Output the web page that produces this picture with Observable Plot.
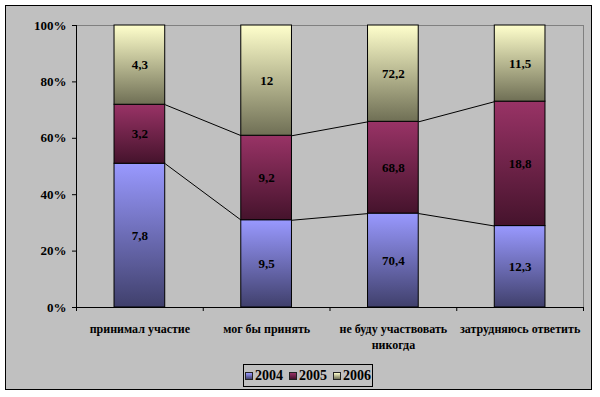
<!DOCTYPE html>
<html>
<head>
<meta charset="utf-8">
<script src="https://cdn.jsdelivr.net/npm/d3@7"></script>
<script src="https://cdn.jsdelivr.net/npm/@observablehq/plot@0.6"></script>
<style>
html,body{margin:0;padding:0;background:#fff;}
#wrap{position:relative;width:600px;height:397px;overflow:hidden;font-family:'Liberation Serif','Times New Roman',serif;}
#frame{position:absolute;left:5px;top:5px;width:585px;height:383px;border:1px solid #000;background:#c0c0c0;}
#chart{position:absolute;left:0;top:0;}
#legend{position:absolute;left:243px;top:364px;width:128px;height:21px;border:1px solid #000;display:flex;align-items:center;justify-content:center;gap:6px;font-weight:bold;font-size:14px;color:#000;font-family:'Liberation Serif',serif;}
#legend .item{display:flex;align-items:center;gap:2px;}
#legend .sw{width:6px;height:6px;border:1px solid #222;}
</style>
</head>
<body>
<div id="wrap">
  <div id="frame"></div>
  <div id="chart"></div>
  <div id="legend"></div>
</div>
<script>
const categories = ["принимал участие", "мог бы принять", "не буду участвовать никогда", "затрудняюсь ответить"];
const categoryLabels = ["принимал участие", "мог бы принять", "не буду участвовать\nникогда", "затрудняюсь ответить"];
const years = ["2004", "2005", "2006"];
const v2004 = [7.8, 9.5, 70.4, 12.3];
const v2005 = [3.2, 9.2, 68.8, 18.8];
const v2006 = [4.3, 12, 72.2, 11.5];
const yTicks = [0, 0.2, 0.4, 0.6, 0.8, 1];

const series = [v2004, v2005, v2006];
const gradTop = {"2004": "#9999ff", "2005": "#993366", "2006": "#ffffcc"};
const gradBottom = {"2004": "#40406c", "2005": "#45132c", "2006": "#6f6f55"};

// build normalized stacked table
const rows = [];
categories.forEach((c, i) => {
  const total = series.reduce((s, arr) => s + arr[i], 0);
  let acc = 0;
  years.forEach((y, k) => {
    const v = series[k][i];
    const y1 = acc / total;
    acc += v;
    const y2 = acc / total;
    rows.push({i, cat: c, year: y, value: v, y1, y2});
  });
});

// connector lines between tops of 2004 and 2005 segments
const half = 0.2;
const links = [];
for (let i = 0; i < categories.length - 1; i++) {
  for (const y of ["2004", "2005"]) {
    const a = rows.find(r => r.i === i && r.year === y);
    const b = rows.find(r => r.i === i + 1 && r.year === y);
    links.push({x1: i + half, x2: i + 1 - half, y1: a.y2, y2: b.y2});
  }
}

const idx = categories.map((c, i) => i);
const bounds = [-0.5, ...idx.map(i => i + 0.5)];
const fmt = v => String(v).replace(".", ",");

const font = "Liberation Serif";

const plot = Plot.plot({
  width: 600,
  height: 360,
  marginLeft: 76,
  marginRight: 17,
  marginTop: 25,
  marginBottom: 53,
  style: {background: "transparent", color: "#000", overflow: "visible"},
  x: {domain: [-0.5, categories.length - 0.5], axis: null},
  y: {domain: [0, 1], axis: null},
  color: {domain: years, range: years.map(y => `url(#grad${y})`)},
  marks: [
    Plot.ruleY([1], {stroke: "#808080", strokeWidth: 1}),
    Plot.ruleX([categories.length - 0.5], {stroke: "#808080", strokeWidth: 1}),
    Plot.link(links, {x1: "x1", x2: "x2", y1: "y1", y2: "y2", stroke: "#000", strokeWidth: 1}),
    Plot.rect(rows, {x1: d => d.i - half, x2: d => d.i + half, y1: "y1", y2: "y2", fill: "year", stroke: "#000", strokeWidth: 1}),
    Plot.text(rows, {x: "i", y: d => (d.y1 + d.y2) / 2, text: d => fmt(d.value), fontSize: 13, fontWeight: "bold", fill: "#000", fontFamily: font}),
    Plot.ruleX([-0.5], {stroke: "#000"}),
    Plot.ruleY([0], {stroke: "#000"}),
    Plot.axisY(yTicks, {tickFormat: d3.format(".0%"), tickSize: 4, tickPadding: 6, fontSize: 13, fontWeight: "bold", stroke: "#000", fill: "#000", label: null, fontFamily: font}),
    Plot.axisX(bounds, {tickSize: 4, tickFormat: () => "", stroke: "#000", label: null}),
    Plot.text(idx, {x: d => d, text: d => categoryLabels[d], frameAnchor: "bottom", lineAnchor: "top", dy: 14, lineHeight: 1.35, fontSize: 12, fontWeight: "bold", fill: "#000", fontFamily: font})
  ]
});

d3.select(plot).style("font-family", font).selectAll("text").attr("font-family", font);

const defs = d3.select(plot).insert("defs", ":first-child");
years.forEach(y => {
  const g = defs.append("linearGradient").attr("id", `grad${y}`).attr("x1", 0).attr("y1", 0).attr("x2", 0).attr("y2", 1);
  g.append("stop").attr("offset", "0%").attr("stop-color", gradTop[y]);
  g.append("stop").attr("offset", "100%").attr("stop-color", gradBottom[y]);
});

document.getElementById("chart").appendChild(plot);

const legend = d3.select("#legend");
years.forEach(y => {
  const it = legend.append("div").attr("class", "item");
  it.append("div").attr("class", "sw").style("background", `linear-gradient(${gradTop[y]}, ${gradBottom[y]})`);
  it.append("span").text(y);
});
</script>
</body>
</html>
